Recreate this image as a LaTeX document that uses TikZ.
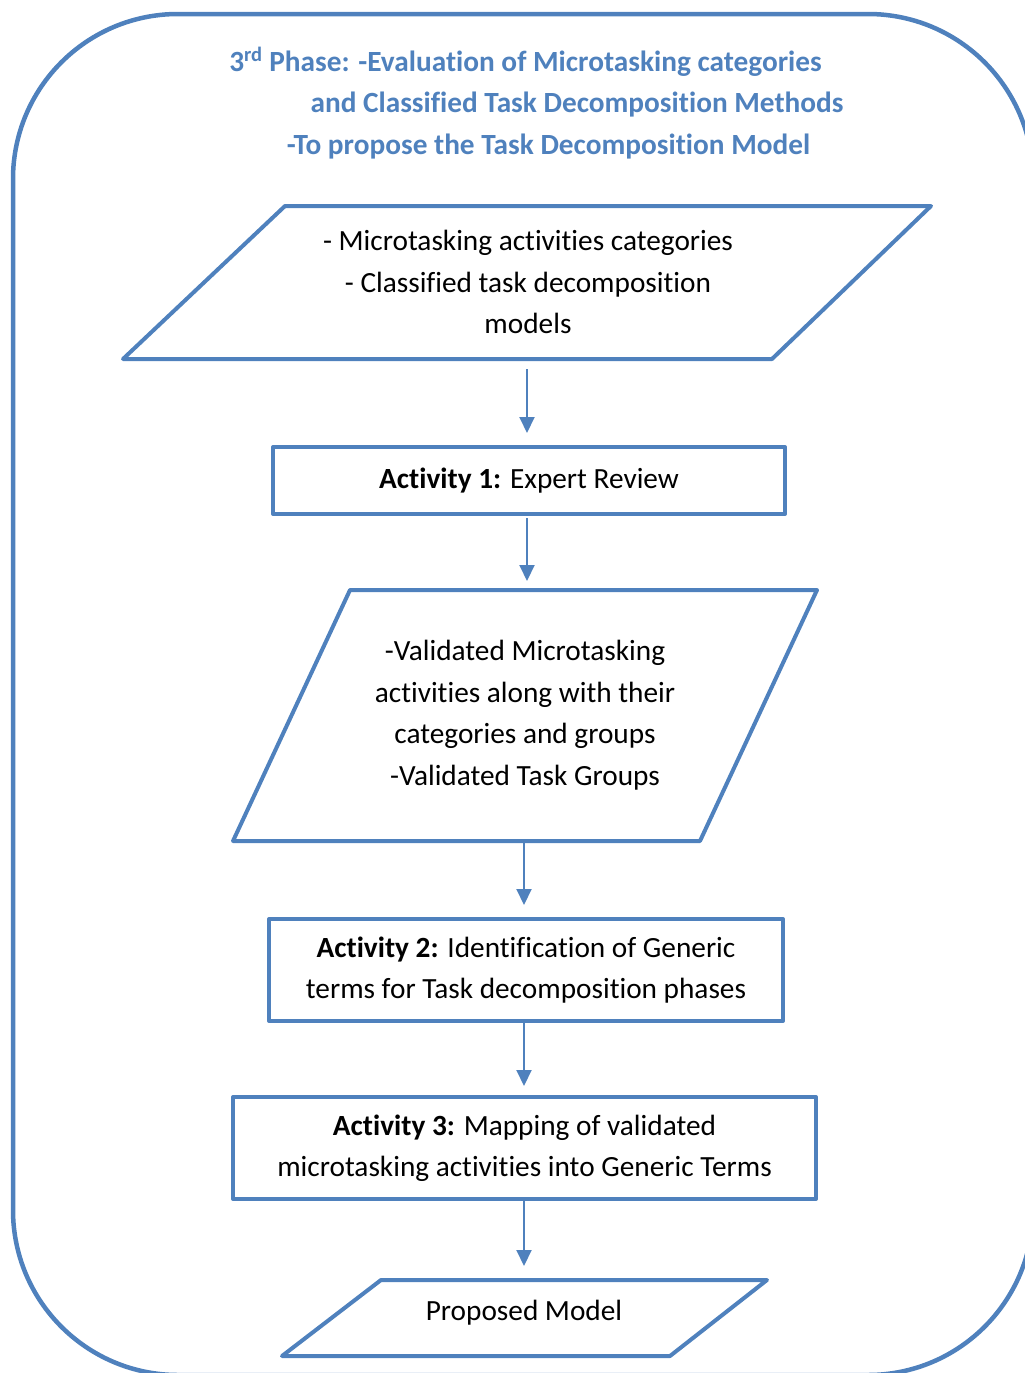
\documentclass[tikz,border=0pt]{standalone}
\usepackage{fontspec}
\setmainfont{Carlito}[Ligatures=NoCommon]
\usetikzlibrary{arrows.meta}
\definecolor{phaseblue}{HTML}{4F81BD}
\begin{document}
\begin{tikzpicture}[x=1pt,y=-1pt,
  frame/.style={draw=phaseblue,line width=4.5pt},
  shapeline/.style={draw=phaseblue,line width=4pt,line join=round},
  stepbox/.style={shapeline,rectangle,inner sep=0pt,align=center,
    font=\fontsize{29.3}{41.5}\selectfont},
  body/.style={align=center,inner sep=0pt,anchor=center,
    font=\fontsize{29.3}{41.5}\selectfont},
  titletext/.style={text=phaseblue,inner sep=0pt,anchor=base,
    font=\fontsize{29.3}{41.5}\selectfont\bfseries},
  conn/.style={draw=phaseblue,line width=2pt,
    -{Triangle[width=15pt,length=16pt]}}
]
\useasboundingbox (0,0) rectangle (1025,1373);
\clip (0,0) rectangle (1025,1373);

% outer rounded frame of the phase
\draw[frame,rounded corners=165pt] (13,14) rectangle (1033,1375);

% phase heading
\node[titletext] (head1) at (525.5,71) {3\textsuperscript{rd} Phase: -Evaluation of Microtasking categories};
\node[titletext] (head2) at (577,112) {and Classified Task Decomposition Methods};
\node[titletext] (head3) at (548.5,154) {-To propose the Task Decomposition Model};

% input: categories and classified models
\draw[shapeline] (285,206) -- (931,206) -- (772,359) -- (123,359) -- cycle;
\node[body] (inputs) at (528,282) {- Microtasking activities categories\\- Classified task decomposition\\models};
\coordinate (inputsB) at (527,359);

% activity 1
\node[stepbox,minimum width=512pt,minimum height=67pt] (act1) at (529,480.5)
  {\textbf{Activity 1:} Expert Review};

% validated outputs
\draw[shapeline] (350,590) -- (817,590) -- (700,841) -- (233,841) -- cycle;
\node[body] (valid) at (525,715) {-Validated Microtasking\\activities along with their\\categories and groups\\-Validated Task Groups};
\coordinate (validT) at (527,590);
\coordinate (validB) at (524,841);

% activity 2
\node[stepbox,minimum width=514pt,minimum height=102pt] (act2) at (526,970)
  {\textbf{Activity 2:} Identification of Generic\\terms for Task decomposition phases};

% activity 3
\node[stepbox,minimum width=583pt,minimum height=102pt] (act3) at (524.5,1148)
  {\textbf{Activity 3:} Mapping of validated\\microtasking activities into Generic Terms};

% resulting model
\draw[shapeline] (381,1280) -- (767,1280) -- (670,1356) -- (282,1356) -- cycle;
\node[body] (model) at (524,1313) {Proposed Model};
\coordinate (modelT) at (524,1280);

% flow connectors
\draw[conn,shorten <=10pt,shorten >=12pt] (inputsB) -- (act1.north -| inputsB);
\draw[conn,shorten <=2pt,shorten >=9pt] (act1.south -| validT) -- (validT);
\draw[conn,shorten <=2pt,shorten >=12pt] (validB) -- (act2.north -| validB);
\draw[conn,shorten <=0pt,shorten >=9pt] (act2.south -| validB) -- (act3.north -| validB);
\draw[conn,shorten <=0pt,shorten >=14pt] (act3.south -| modelT) -- (modelT);
\end{tikzpicture}
\end{document}
